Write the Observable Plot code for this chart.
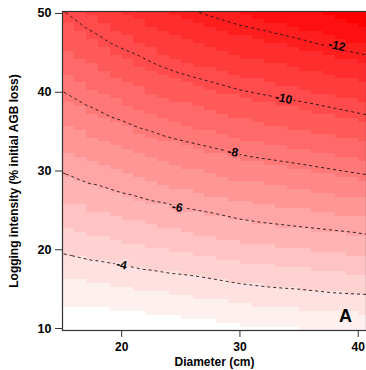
<!DOCTYPE html>
<html>
<head>
<meta charset="utf-8">
<script src="https://cdn.jsdelivr.net/npm/d3@7"></script>
<script src="https://cdn.jsdelivr.net/npm/@observablehq/plot@0.6"></script>
<style>
  html, body { margin: 0; padding: 0; background: #fff; overflow: hidden; }
  #chart { width: 366px; height: 370px; }
</style>
</head>
<body>
<div id="chart"></div>
<script>
// Grid of estimated AGB loss values
const diameter = [15, 17.5, 20, 22.5, 25, 30, 35, 41];   // cm
const intensity = [9.75, 20, 30, 40, 50.25];              // % initial AGB loss
const lossAtI10 = [-2.11, -2.15, -2.18, -2.25, -2.32, -2.55, -2.68, -2.80];
const lossAtI20 = [-4.10, -4.28, -4.42, -4.59, -4.73, -5.05, -5.26, -5.50];
const lossAtI30 = [-6.04, -6.34, -6.60, -6.85, -7.08, -7.49, -7.77, -8.14];
const lossAtI40 = [-7.98, -8.40, -8.78, -9.13, -9.44, -9.93, -10.29, -10.78];
const lossAtI50 = [-9.97, -10.52, -11.02, -11.46, -11.85, -12.43, -12.87, -13.48];

// Contour levels and their labels
const levels = [-12, -10, -8, -6, -4];
const labelText = ["-12", "-10", "-8", "-6", "-4"];
const labelDiam = [38.2, 33.7, 29.4, 24.7, 20.0];
const labelInt = [45.9, 39.2, 32.4, 25.4, 18.1];

// Axis ticks
const xTicks = [20, 30, 40];
const yTicks = [10, 20, 30, 40, 50];

const rows = [lossAtI10, lossAtI20, lossAtI30, lossAtI40, lossAtI50];
const grid = [];
rows.forEach((row, j) => row.forEach((z, i) => grid.push({D: diameter[i], I: intensity[j], z})));
const labels = labelText.map((t, k) => ({t, D: labelDiam[k], I: labelInt[k], z: levels[k]}));

const nBands = 18;
const zMin = -13.6, zMax = -2.1;
const thresholds = d3.range(1, nBands).map(i => zMin + i * (zMax - zMin) / nBands);
const colors = d3.quantize(d3.interpolateRgb("#ff0000", "#ffffff"), nBands);

const font = "Liberation Sans, Arial, Helvetica, sans-serif";

const chart = Plot.plot({
  width: 366,
  height: 370,
  marginLeft: 62,
  marginRight: 0,
  marginTop: 11,
  marginBottom: 40,
  style: {fontFamily: font, background: "#fff"},
  x: {domain: [15, 40.7]},
  y: {domain: [9.75, 50.25]},
  color: {type: "threshold", domain: thresholds, range: colors},
  marks: [
    Plot.raster(grid, {
      x: "D", y: "I", fill: "z",
      interpolate: "barycentric",
      x1: 15, x2: 41, y1: 9.75, y2: 50.25,
      width: 26, height: 81,
      imageRendering: "pixelated",
      clip: "frame"
    }),
    Plot.contour(grid, {
      x: "D", y: "I", value: "z",
      interpolate: "barycentric",
      x1: 15, x2: 41, y1: 9.75, y2: 50.25,
      thresholds: levels,
      fill: "none", stroke: "#111", strokeWidth: 0.9,
      strokeDasharray: "3,3",
      clip: "frame"
    }),
    Plot.text(labels, {
      x: "D", y: "I", text: "t",
      rotate: 12, fontSize: 12, fontWeight: "bold", fill: "#000",
      stroke: "z", strokeWidth: 4
    }),
    Plot.axisX({ticks: xTicks, tickSize: 7, tickPadding: 5, fontSize: 12, fontWeight: "bold", label: null, stroke: "#333", fill: "#000"}),
    Plot.axisY({ticks: yTicks, tickSize: 7, tickPadding: 4, fontSize: 12.5, fontWeight: "bold", label: null, stroke: "#333", fill: "#000"}),
    Plot.text(["Diameter (cm)"], {frameAnchor: "bottom", lineAnchor: "middle", dy: 32, fontSize: 12, fontWeight: "bold", fill: "#000"}),
    Plot.text(["Logging intensity (% initial AGB loss)"], {frameAnchor: "left", textAnchor: "middle", lineAnchor: "middle", dx: -48, dy: 10, rotate: -90, fontSize: 12, fontWeight: "bold", fill: "#000"}),
    Plot.text(["A"], {frameAnchor: "bottom-right", textAnchor: "middle", lineAnchor: "middle", dx: -21, dy: -14, fontSize: 18, fontWeight: "bold", fill: "#000"}),
    Plot.frame({stroke: "#333", strokeWidth: 1.2})
  ]
});
document.getElementById("chart").appendChild(chart);
</script>
</body>
</html>
